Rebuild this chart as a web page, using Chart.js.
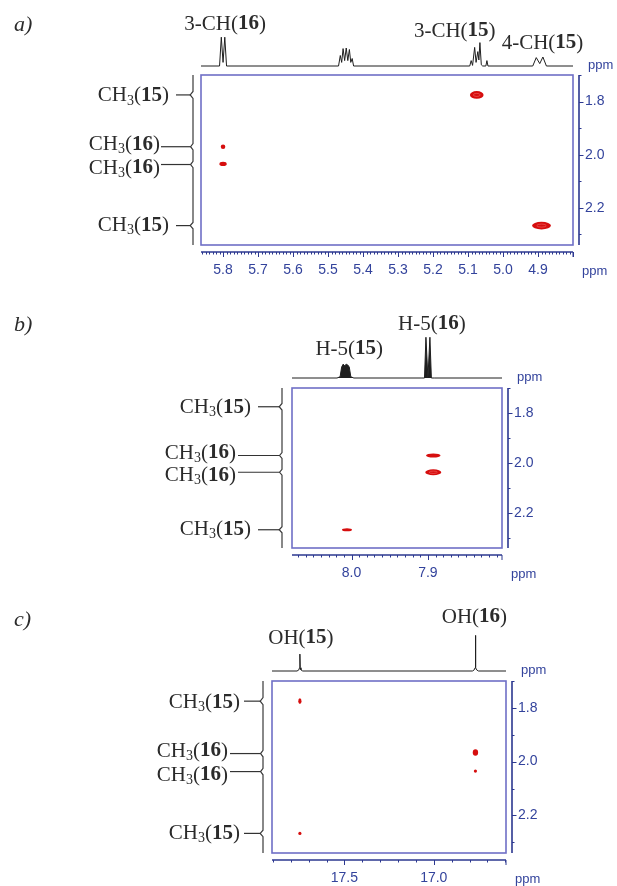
<!DOCTYPE html>
<html>
<head>
<meta charset="utf-8">
<title>2D NMR correlations, compounds 15 and 16</title>
<script src="https://cdn.jsdelivr.net/npm/chart.js@4.4.1/dist/chart.umd.min.js"></script>
<style>
  body { margin: 0; background: #fff; }
  #page { position: relative; width: 617px; height: 886px; }
  #page canvas { position: absolute; left: 0; top: 0; }
</style>
</head>
<body>
<div id="page"></div>
<script>
// ---- data ----
// F1 axis: methyl shifts shared by all three spectra (ppm)
const ch3Ppm = [1.775, 1.970, 2.037, 2.267];
const ch3Compound = ["15", "16", "16", "15"];
const yTicks = [1.8, 2.0, 2.2];
// F1 projection (ppm, intensity)
const leftPpm = [1.70, 1.762, 1.775, 1.788, 1.958, 1.970, 1.982, 2.025, 2.037, 2.049, 2.255, 2.267, 2.279, 2.34];
const leftInt = [0, 0, 14, 0, 0, 12, 0, 0, 12, 0, 0, 14, 0, 0];

// a) olefinic protons
const aXTicks = [5.8, 5.7, 5.6, 5.5, 5.4, 5.3, 5.2, 5.1, 5.0, 4.9];
const aCrossF2 = [5.80, 5.80, 5.075, 4.89];
const aCrossF1 = [1.970, 2.035, 1.775, 2.267];
const aCrossWidthF2 = [0.013, 0.021, 0.039, 0.054];
const aCrossWidthF1 = [0.017, 0.016, 0.029, 0.029];
const aTopPpm = [5.863, 5.810, 5.805, 5.800, 5.795, 5.790,
    5.470, 5.465, 5.461, 5.457, 5.4525, 5.448, 5.4435, 5.439, 5.435, 5.431, 5.427,
    5.095, 5.091, 5.087, 5.081, 5.077, 5.072, 5.069, 5.066, 5.062, 5.058, 5.049, 5.046, 5.043,
    4.915, 4.905, 4.895, 4.886, 4.876, 4.800];
const aTopInt = [0, 0, 96, 12, 96, 0,
    0, 35, 12, 58, 18, 60, 18, 55, 12, 25, 0,
    0, 18, 2, 62, 12, 48, 20, 78, 4, 0, 0, 18, 0,
    0, 28, 8, 30, 0, 0];
const aLabelText = ["3-CH", "3-CH", "4-CH"];
const aLabelCompound = ["16", "15", "15"];
const aLabelPpm = [5.80, 5.075, 4.89];

// b) H-5
const bXTicks = [8.0, 7.9];
const bCrossF2 = [7.893, 7.893, 8.006];
const bCrossF1 = [1.970, 2.037, 2.267];
const bCrossWidthF2 = [0.019, 0.021, 0.013];
const bCrossWidthF1 = [0.016, 0.024, 0.012];
const bTopPpm = [8.078, 8.019, 8.015, 8.013, 8.011, 8.009, 8.007, 8.005, 8.003, 8.001, 7.997,
    7.909, 7.9045, 7.9026, 7.900, 7.8974, 7.8955, 7.891, 7.803];
const bTopInt = [0, 0, 3, 26, 33, 29, 33, 31, 26, 3, 0,
    0, 0, 97, 0, 97, 0, 0, 0];
const bLabelText = ["H-5", "H-5"];
const bLabelCompound = ["15", "16"];
const bLabelPpm = [8.007, 7.900];

// c) enol OH
const cXTicks = [17.5, 17.0];
const cCrossF2 = [17.749, 17.749, 16.767, 16.767];
const cCrossF1 = [1.775, 2.267, 1.966, 2.035];
const cCrossWidthF2 = [0.018, 0.018, 0.030, 0.018];
const cCrossWidthF1 = [0.021, 0.012, 0.024, 0.012];
const cTopPpm = [17.905, 17.765, 17.755, 17.751, 17.749, 17.747, 17.743, 17.733,
    16.784, 16.774, 16.769, 16.767, 16.765, 16.760, 16.750, 16.596];
const cTopInt = [0, 0, 3, 9, 47, 9, 3, 0,
    0, 3, 9, 99, 9, 3, 0, 0];
const cLabelText = ["OH", "OH"];
const cLabelCompound = ["15", "16"];
const cLabelPpm = [17.749, 16.767];

// ---- layout / style ----
const W = 617, H = 886;
const AXIS_BAND = 40; // room kept for the tick labels of the 2D map
const SERIF = '"Liberation Serif", "Times New Roman", serif';
const SANS = '"Liberation Sans", Arial, sans-serif';
const TEXT = "#2b2b2b";
const BLUE = "#33439c";
const BOX = "#6f6fc6";
const AXIS = "#2c3890";
const PEAK = "#d60e0e";
const F1_RANGE = [1.70, 2.34];
const ch3LabelDy = [1, -2.5, 3.5, 0];

const panels = [
    {
        letter: "a)", letterY: 25,
        box: { l: 201, t: 75, r: 573, b: 245 },
        xMin: 4.800, xMax: 5.863, xMinor: 0.01, xMajor: 0.1, xTicks: aXTicks,
        crossF2: aCrossF2, crossF1: aCrossF1, crossWF2: aCrossWidthF2, crossWF1: aCrossWidthF1,
        topPpm: aTopPpm, topInt: aTopInt, topBase: 66, topH: 30, topFill: false,
        labelText: aLabelText, labelCompound: aLabelCompound, labelPpm: aLabelPpm,
        labelDx: [2, -22, 1], labelY: [24, 31, 43],
        leftBase: 193, gap15: 24, gap16: 33, line15: 17, line16: 32,
    },
    {
        letter: "b)", letterY: 325,
        box: { l: 292, t: 388, r: 502, b: 548 },
        xMin: 7.803, xMax: 8.078, xMinor: 0.01, xMajor: 0.1, xTicks: bXTicks,
        crossF2: bCrossF2, crossF1: bCrossF1, crossWF2: bCrossWidthF2, crossWF1: bCrossWidthF1,
        topPpm: bTopPpm, topInt: bTopInt, topBase: 378, topH: 42, topFill: true,
        labelText: bLabelText, labelCompound: bLabelCompound, labelPpm: bLabelPpm,
        labelDx: [3, 4], labelY: [349, 324],
        leftBase: 282, gap15: 31, gap16: 46, line15: 24, line16: 44,
    },
    {
        letter: "c)", letterY: 620,
        box: { l: 272, t: 681, r: 506, b: 853 },
        xMin: 16.596, xMax: 17.905, xMinor: 0.1, xMajor: 0.5, xTicks: cXTicks,
        crossF2: cCrossF2, crossF1: cCrossF1, crossWF2: cCrossWidthF2, crossWF1: cCrossWidthF1,
        topPpm: cTopPpm, topInt: cTopInt, topBase: 671, topH: 36, topFill: false,
        labelText: cLabelText, labelCompound: cLabelCompound, labelPpm: cLabelPpm,
        labelDx: [1, -1], labelY: [638, 617],
        leftBase: 263, gap15: 23, gap16: 35, line15: 19, line16: 33,
    },
];

const baseOptions = {
    responsive: false,
    animation: false,
    events: [],
    plugins: { legend: { display: false }, tooltip: { enabled: false } },
};

function addCanvas() {
    const c = document.createElement("canvas");
    c.width = W;
    c.height = H;
    document.getElementById("page").appendChild(c);
    return c;
}

// tick values between min and max on a fixed step
function steps(min, max, step) {
    const out = [];
    for (let k = Math.ceil(min / step - 1e-6); k <= Math.floor(max / step + 1e-6); k++) out.push(k * step);
    return out;
}
function isMultiple(v, step) {
    return Math.abs(v / step - Math.round(v / step)) < 1e-6;
}

// text made of runs: normal / bold / subscript
function drawRich(ctx, parts, x, y, align) {
    const fonts = parts.map((q) => (q.sub ? "14px " : q.bold ? "bold 21px " : "21px ") + SERIF);
    const widths = parts.map((q, i) => {
        ctx.font = fonts[i];
        return ctx.measureText(q.t).width;
    });
    const total = widths.reduce((s, w) => s + w, 0);
    let cx = align === "right" ? x - total : align === "center" ? x - total / 2 : x;
    ctx.textAlign = "left";
    ctx.textBaseline = "middle";
    parts.forEach((q, i) => {
        ctx.font = fonts[i];
        ctx.fillText(q.t, cx, y + (q.sub ? 5 : 0));
        cx += widths[i];
    });
}

//2D map with detached axes
function mainChart(p) {
    const frame = {
        id: "frame",
        afterDraw(chart) {
            const { ctx, chartArea: a, scales: { x, y } } = chart;
            ctx.save();
            ctx.strokeStyle = BOX;
            ctx.lineWidth = 1.6;
            ctx.strokeRect(a.left, a.top, a.right - a.left, a.bottom - a.top);

            const ay = a.bottom + 7, ax = a.right + 6;
            ctx.strokeStyle = AXIS;
            ctx.lineWidth = 1.6;
            ctx.beginPath();
            ctx.moveTo(a.left, ay);
            ctx.lineTo(a.right, ay);
            ctx.moveTo(ax, a.top);
            ctx.lineTo(ax, a.bottom);
            ctx.stroke();

            ctx.lineWidth = 1;
            ctx.beginPath();
            steps(p.xMin, p.xMax, p.xMinor).forEach((v) => {
                const px = Math.round(x.getPixelForValue(v)) + 0.5;
                ctx.moveTo(px, ay);
                ctx.lineTo(px, ay + (isMultiple(v, p.xMajor) ? 5 : 2.5));
            });
            ctx.moveTo(a.right, ay);
            ctx.lineTo(a.right, ay + 5);
            steps(F1_RANGE[0], F1_RANGE[1], 0.1).forEach((v) => {
                const py = Math.round(y.getPixelForValue(v)) + 0.5;
                ctx.moveTo(ax, py);
                ctx.lineTo(ax + (isMultiple(v, 0.2) ? 4.5 : 2.5), py);
            });
            ctx.stroke();

            ctx.fillStyle = BLUE;
            ctx.font = "13px " + SANS;
            ctx.textAlign = "left";
            ctx.textBaseline = "middle";
            ctx.fillText("ppm", a.right + 15, p.topBase - 1);
            ctx.fillText("ppm", a.right + 9, a.bottom + 26);

            ctx.fillStyle = TEXT;
            ctx.font = "italic 22px " + SERIF;
            ctx.fillText(p.letter, 14, p.letterY);
            ctx.restore();
        },
    };

    const crossPeaks = {
        id: "crossPeaks",
        afterDatasetsDraw(chart) {
            const { ctx, scales: { x, y } } = chart;
            ctx.save();
            chart.getDatasetMeta(0).data.forEach((pt, i) => {
                const rx = Math.max(1.3, Math.abs(x.getPixelForValue(p.crossF2[i] + p.crossWF2[i] / 2) - pt.x));
                const ry = Math.max(1.3, Math.abs(y.getPixelForValue(p.crossF1[i] + p.crossWF1[i] / 2) - pt.y));
                ctx.fillStyle = PEAK;
                ctx.beginPath();
                ctx.ellipse(pt.x, pt.y, rx, ry, 0, 0, Math.PI * 2);
                ctx.fill();
                if (rx > 4 && ry > 2.5) {
                    ctx.strokeStyle = "rgba(255,140,140,0.6)";
                    ctx.lineWidth = 0.7;
                    ctx.beginPath();
                    ctx.ellipse(pt.x, pt.y, rx * 0.5, ry * 0.4, 0, 0, Math.PI * 2);
                    ctx.stroke();
                }
            });
            ctx.restore();
        },
    };

    return new Chart(addCanvas(), {
        type: "scatter",
        data: {
            datasets: [{
                data: p.crossF2.map((v, i) => ({ x: v, y: p.crossF1[i] })),
                pointRadius: 0,
                pointHoverRadius: 0,
            }],
        },
        options: {
            ...baseOptions,
            layout: {
                padding: {
                    left: p.box.l, top: p.box.t,
                    right: W - p.box.r - AXIS_BAND, bottom: H - p.box.b - AXIS_BAND,
                },
            },
            scales: {
                x: {
                    type: "linear", position: "bottom", reverse: true, min: p.xMin, max: p.xMax,
                    afterBuildTicks: (s) => { s.ticks = p.xTicks.map((v) => ({ value: v })); },
                    afterFit: (s) => { s.height = AXIS_BAND; },
                    grid: { display: false, drawTicks: false },
                    border: { display: false },
                    ticks: {
                        padding: 17, color: BLUE, autoSkip: false, maxRotation: 0,
                        font: { family: SANS, size: 14 },
                        callback: (v) => Number(v).toFixed(1),
                    },
                },
                y: {
                    type: "linear", position: "right", reverse: true, min: F1_RANGE[0], max: F1_RANGE[1],
                    afterBuildTicks: (s) => { s.ticks = yTicks.map((v) => ({ value: v })); },
                    afterFit: (s) => { s.width = AXIS_BAND; },
                    grid: { display: false, drawTicks: false },
                    border: { display: false },
                    ticks: {
                        padding: 12, color: BLUE, autoSkip: false,
                        font: { family: SANS, size: 14 },
                        callback: (v) => Number(v).toFixed(1),
                    },
                },
            },
        },
        plugins: [crossPeaks, frame],
    });
}

// F2 projection on top, with peak labels
function topChart(p) {
    const labels = {
        id: "topLabels",
        afterDraw(chart) {
            const { ctx, scales: { x } } = chart;
            ctx.save();
            ctx.fillStyle = TEXT;
            p.labelText.forEach((t, i) => {
                const cx = x.getPixelForValue(p.labelPpm[i]) + p.labelDx[i];
                drawRich(ctx, [{ t: t + "(" }, { t: p.labelCompound[i], bold: true }, { t: ")" }], cx, p.labelY[i], "center");
            });
            ctx.restore();
        },
    };
    return new Chart(addCanvas(), {
        type: "scatter",
        data: {
            datasets: [{
                data: p.topPpm.map((v, i) => ({ x: v, y: p.topInt[i] })),
                showLine: true,
                borderColor: "#1e1e1e",
                backgroundColor: "#1e1e1e",
                fill: p.topFill ? "origin" : false,
                borderWidth: 1,
                pointRadius: 0,
                clip: 6,
            }],
        },
        options: {
            ...baseOptions,
            layout: { padding: { left: p.box.l, right: W - p.box.r, top: p.topBase - p.topH, bottom: H - p.topBase } },
            scales: {
                x: { type: "linear", reverse: true, min: p.xMin, max: p.xMax, display: false },
                y: { type: "linear", min: 0, max: 100, display: false },
            },
        },
        plugins: [labels],
    });
}

// F1 projection on the left, with methyl labels
function leftChart(p) {
    const labels = {
        id: "ch3Labels",
        afterDraw(chart) {
            const { ctx, scales: { x, y } } = chart;
            ctx.save();
            ctx.strokeStyle = "#333";
            ctx.lineWidth = 1.2;
            ctx.fillStyle = TEXT;
            ch3Ppm.forEach((v, i) => {
                const py = y.getPixelForValue(v);
                const tip = x.getPixelForValue(leftInt[leftPpm.indexOf(v)]);
                const is15 = ch3Compound[i] === "15";
                ctx.beginPath();
                ctx.moveTo(p.leftBase - (is15 ? p.line15 : p.line16), py);
                ctx.lineTo(tip, py);
                ctx.stroke();
                drawRich(ctx, [{ t: "CH" }, { t: "3", sub: true }, { t: "(" }, { t: ch3Compound[i], bold: true }, { t: ")" }],
                    p.leftBase - (is15 ? p.gap15 : p.gap16), py + ch3LabelDy[i], "right");
            });
            ctx.restore();
        },
    };
    return new Chart(addCanvas(), {
        type: "scatter",
        data: {
            datasets: [{
                data: leftPpm.map((v, i) => ({ x: leftInt[i], y: v })),
                showLine: true,
                borderColor: "#3a3a3a",
                borderWidth: 1.2,
                pointRadius: 0,
                clip: 6,
            }],
        },
        options: {
            ...baseOptions,
            layout: { padding: { left: p.leftBase - 20, right: W - p.leftBase, top: p.box.t, bottom: H - p.box.b } },
            scales: {
                x: { type: "linear", reverse: true, min: 0, max: 100, display: false },
                y: { type: "linear", reverse: true, min: F1_RANGE[0], max: F1_RANGE[1], display: false },
            },
        },
        plugins: [labels],
    });
}

panels.forEach((p) => {
    topChart(p);
    leftChart(p);
    mainChart(p);
});
</script>
</body>
</html>
